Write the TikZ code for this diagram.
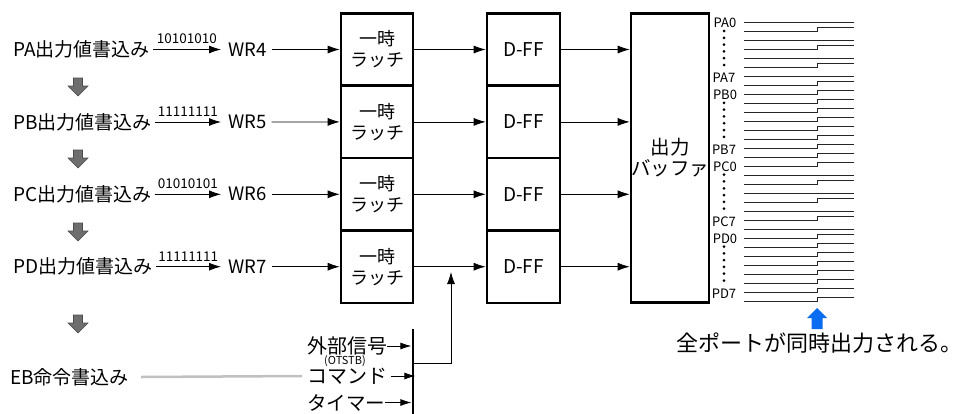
\documentclass[tikz,border=0pt]{standalone}
\usepackage{fontspec}
\setmainfont{Noto Sans CJK JP}
\usetikzlibrary{arrows.meta,calc}
\definecolor{arrgray}{HTML}{6E6E6E}
\definecolor{arrblue}{HTML}{0A6CF0}
\definecolor{linegray}{HTML}{C0C0C0}
\begin{document}
\begin{tikzpicture}[x=1pt,y=-1pt,
  arr/.style={line width=0.8pt,-{Latex[length=12pt,width=8pt]}},
  sarr/.style={line width=0.8pt,-{Latex[length=11pt,width=7pt]}},
  blk/.style={draw,line width=2.6pt,minimum width=72pt,minimum height=72.4pt,inner sep=0pt,align=center,
     font=\fontsize{18}{21}\selectfont},
  lbl/.style={font=\fontsize{19}{21}\selectfont,inner sep=0pt,anchor=west},
  wrl/.style={font=\fontsize{18.5}{21}\selectfont,inner sep=0pt,anchor=west},
  bits/.style={font=\fontsize{13.5}{15}\selectfont,inner sep=0pt,above=5pt},
  port/.style={font=\fontsize{13}{14}\selectfont,inner sep=0pt},
  sig/.style={font=\fontsize{20}{22}\selectfont,inner sep=0pt,anchor=west},
  wave/.style={line width=0.8pt,black!85},
  dnarrow/.pic={\filldraw[fill=arrgray,draw=black!70,line width=0.6pt]
     (-4.5,-9) -- (4.5,-9) -- (4.5,-1) -- (10,-1) -- (0,9) -- (-10,-1) -- (-4.5,-1) -- cycle;},
  uparrow/.pic={\fill[arrblue]
     (0,-10.5) -- (10,-0.5) -- (5.5,-0.5) -- (5.5,10.5) -- (-5.5,10.5) -- (-5.5,-0.5) -- (-10,-0.5) -- cycle;}
]
\fill[white] (0,0) rectangle (964,413);
\path[use as bounding box] (0,0) rectangle (964,413);

% left labels
\node[lbl] (pa) at (13,49.5) {PA出力値書込み};
\node[lbl] (pb) at (13,122) {PB出力値書込み};
\node[lbl] (pc) at (13,194.3) {PC出力値書込み};
\node[lbl] (pd) at (13,266.7) {PD出力値書込み};
\node[lbl] (eb) at (10,377) {EB命令書込み};

\node[wrl] (wr4) at (228,49.5) {WR4};
\node[wrl] (wr5) at (228,122) {WR5};
\node[wrl] (wr6) at (228,194.3) {WR6};
\node[wrl] (wr7) at (228,266.7) {WR7};

\draw[arr] ([xshift=3pt]pa.east) -- ([xshift=-7pt]wr4.west) node[bits,midway] (b1) {10101010};
\draw[arr] ([xshift=3pt]pb.east) -- ([xshift=-7pt]wr5.west) node[bits,midway] (b2) {11111111};
\draw[arr] ([xshift=3pt]pc.east) -- ([xshift=-7pt]wr6.west) node[bits,midway] (b3) {01010101};
\draw[arr] ([xshift=3pt]pd.east) -- ([xshift=-7pt]wr7.west) node[bits,midway] (b4) {11111111};

% gray down arrows
\pic (d1) at (78,87) {dnarrow};
\pic (d2) at (78,159) {dnarrow};
\pic (d3) at (78,232) {dnarrow};
\pic (d4) at (78,324) {dnarrow};

% latches
\node[blk] (l1) at (377,49.5) {一時\\ラッチ};
\node[blk] (l2) at (377,121.9) {一時\\ラッチ};
\node[blk] (l3) at (377,194.3) {一時\\ラッチ};
\node[blk] (l4) at (377,266.7) {一時\\ラッチ};

% D-FF
\node[blk,minimum width=73pt,font=\fontsize{19}{21}\selectfont] (f1) at (523.5,49.5) {D-FF};
\node[blk,minimum width=73pt,font=\fontsize{19}{21}\selectfont] (f2) at (523.5,121.9) {D-FF};
\node[blk,minimum width=73pt,font=\fontsize{19}{21}\selectfont] (f3) at (523.5,194.3) {D-FF};
\node[blk,minimum width=73pt,font=\fontsize{19}{21}\selectfont] (f4) at (523.5,266.7) {D-FF};

% buffer
\node[blk,minimum width=74pt,minimum height=289.4pt,font=\fontsize{19.5}{21}\selectfont] (buf) at (670,158) {出力\\バッファ};

% arrows
\draw[arr] ([xshift=5pt]wr4.east) -- (l1.west);
\draw[arr] ([xshift=5pt]wr5.east) -- (l2.west);
\draw[arr] ([xshift=5pt]wr6.east) -- (l3.west);
\draw[arr] ([xshift=5pt]wr7.east) -- (l4.west);
\draw[arr] (l1.east) -- (f1.west);
\draw[arr] (l2.east) -- (f2.west);
\draw[arr] (l3.east) -- (f3.west);
\draw[arr] (l4.east) -- (f4.west);
\draw[arr] (f1.east) -- (f1.east -| buf.west);
\draw[arr] (f2.east) -- (f2.east -| buf.west);
\draw[arr] (f3.east) -- (f3.east -| buf.west);
\draw[arr] (f4.east) -- (f4.east -| buf.west);

% trigger sources
\node[sig] (ext) at (307,346) {外部信号};
\node[sig] (cmd) at (307,376) {コマンド};
\node[font=\fontsize{11}{12}\selectfont,inner sep=0pt] (otstb) at (345,361) {(OTSTB)};
\node[sig,font=\fontsize{19.5}{21}\selectfont] (tmr) at (307,402.5) {タイマー};
\node[fill=black,minimum width=2.8pt,minimum height=86pt,inner sep=0pt] (bar) at (413,372) {};
\draw[sarr] (ext.east) -- (ext.east -| bar.west);
\draw[sarr] ([xshift=4pt]cmd.east) -- ([xshift=4pt]cmd.east -| bar.west);
\draw[sarr] (tmr.east) -- (tmr.east -| bar.west);
\draw[line width=2.5pt,linegray] ([xshift=12pt]eb.east) -- ([xshift=-5pt]cmd.west);
\coordinate (barout) at (414,363);
\coordinate (trig) at (451,272);
\draw[arr] (barout) -| (trig);

% port labels
\node[port] (pa0) at (725,23) {PA0};
\node[port] (pa7) at (724,78) {PA7};
\node[port] (pb0) at (725,94.5) {PB0};
\node[port] (pb7) at (724,149.5) {PB7};
\node[port] (pc0) at (725,166.5) {PC0};
\node[port] (pc7) at (724,221.5) {PC7};
\node[port] (pd0) at (725,239) {PD0};
\node[port] (pd7) at (724,294) {PD7};
\foreach \g in {0,1,2,3}
  \foreach \k in {0,...,5}
    \fill (724,{31+\g*71.84+\k*6.8}) circle (1.5pt);

% waveforms
\foreach \b [count=\i from 0] in {0,1,0,1,0,1,0,1, 1,1,1,1,1,1,1,1, 1,0,1,0,1,0,1,0, 1,1,1,1,1,1,1,1}{
  \pgfmathsetmacro\yy{22.7+\i*8.98}
  \ifnum\b=1
    \draw[wave] (744,\yy) -- (817,\yy) -- (817,\yy-4) -- (854,\yy-4);
  \else
    \draw[wave] (744,\yy) -- (854,\yy);
  \fi
}

\pic (up) at (817,318.5) {uparrow};
\node[font=\fontsize{22}{24}\selectfont,inner sep=0pt] (note) at (819,343) {全ポートが同時出力される。};
\end{tikzpicture}
\end{document}
